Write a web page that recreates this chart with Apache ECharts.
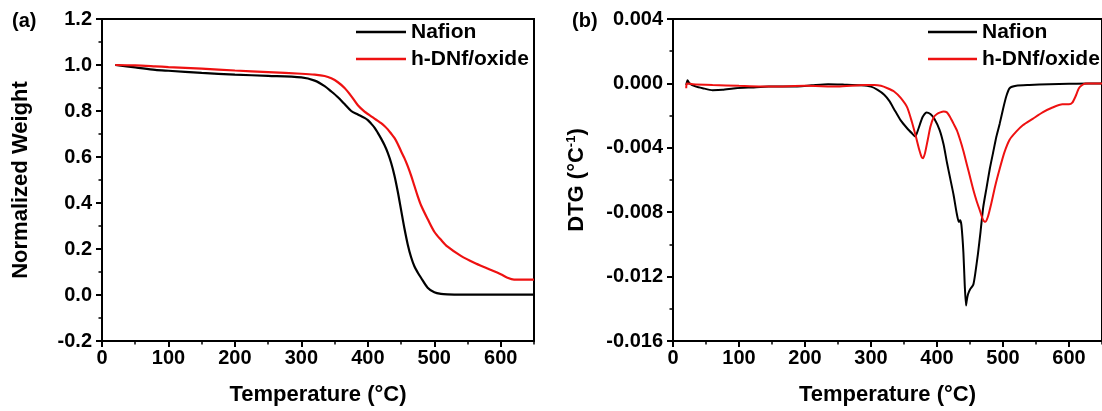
<!DOCTYPE html>
<html>
<head>
<meta charset="utf-8">
<script src="https://cdn.jsdelivr.net/npm/echarts@6/dist/echarts.min.js"></script>
<style>html,body{margin:0;padding:0;background:#fff}#c{width:1102px;height:411px}</style>
</head>
<body>
<div id="c"></div>
<script>
// ---- data ----
const seriesNames = ['Nafion', 'h-DNf/oxide'];
const xTicks = [0, 100, 200, 300, 400, 500, 600];
const xMinorTicks = [50, 150, 250, 350, 450, 550, 650];

// (a) TGA
const tgaT = [20, 50, 80, 100, 150, 200, 250, 300, 320, 335, 345, 355, 365, 375, 385, 395, 400, 405, 410, 415, 420, 425, 430, 435, 440, 445, 450, 455, 460, 465, 470, 475, 480, 490, 500, 510, 520, 540, 560, 580, 600, 610, 620, 650];
const tgaNafion = [1.0, 0.99, 0.979, 0.975, 0.966, 0.958, 0.953, 0.946, 0.932, 0.908, 0.885, 0.86, 0.83, 0.80, 0.785, 0.77, 0.76, 0.745, 0.728, 0.705, 0.68, 0.652, 0.618, 0.575, 0.52, 0.45, 0.37, 0.29, 0.22, 0.165, 0.125, 0.098, 0.075, 0.032, 0.012, 0.005, 0.003, 0.002, 0.002, 0.002, 0.002, 0.002, 0.002, 0.002];
const tgaOxide = [1.0, 0.998, 0.994, 0.991, 0.984, 0.976, 0.969, 0.962, 0.958, 0.952, 0.942, 0.925, 0.90, 0.865, 0.825, 0.797, 0.787, 0.777, 0.767, 0.757, 0.747, 0.735, 0.72, 0.702, 0.683, 0.657, 0.625, 0.595, 0.56, 0.52, 0.475, 0.43, 0.39, 0.33, 0.275, 0.24, 0.21, 0.17, 0.14, 0.115, 0.09, 0.075, 0.067, 0.067];

// (b) DTG
const dtgNafionT = [20, 22, 25, 35, 45, 60, 75, 95, 120, 145, 180, 210, 235, 260, 285, 300, 310, 320, 328, 335, 345, 355, 362, 367, 372, 378, 384, 390, 396, 404, 410, 415, 420, 425, 430, 433, 435, 437, 440, 442, 444, 445, 447, 450, 455, 458, 462, 466, 470, 475, 480, 485, 490, 495, 500, 505, 510, 520, 540, 570, 600, 630, 650];
const dtgNafionV = [-0.0001, 0.0002, 0.0, -0.0002, -0.0003, -0.00042, -0.0004, -0.0003, -0.00025, -0.0002, -0.0002, -0.00012, -0.00005, -0.00008, -0.00012, -0.0002, -0.0004, -0.0007, -0.0011, -0.0016, -0.0023, -0.0028, -0.0031, -0.0033, -0.0028, -0.0021, -0.0018, -0.0019, -0.0022, -0.0029, -0.0038, -0.0049, -0.0059, -0.0069, -0.0081, -0.0086, -0.0085, -0.0088, -0.0105, -0.0125, -0.0138, -0.0135, -0.0131, -0.0128, -0.0125, -0.0118, -0.0106, -0.0092, -0.0077, -0.0065, -0.0053, -0.0043, -0.0033, -0.0025, -0.0016, -0.0008, -0.0003, -0.00015, -0.0001, -0.00005, -0.00002, 0.0, 0.0];
const dtgOxideT = [20, 21, 30, 60, 100, 150, 200, 250, 290, 305, 315, 325, 335, 345, 355, 362, 368, 373, 377, 379, 382, 386, 390, 395, 400, 405, 410, 415, 420, 425, 430, 435, 440, 445, 450, 455, 460, 465, 470, 473, 477, 482, 488, 495, 502, 510, 520, 530, 545, 560, 575, 590, 600, 605, 610, 615, 620, 625, 635, 650];
const dtgOxideV = [-0.0003, 0.0, -0.00005, -0.0001, -0.00015, -0.0002, -0.00015, -0.0002, -0.0001, -0.0001, -0.00015, -0.0003, -0.0005, -0.0009, -0.0015, -0.0024, -0.0033, -0.0041, -0.0046, -0.00465, -0.0043, -0.0035, -0.0027, -0.0021, -0.0019, -0.0018, -0.00175, -0.0018, -0.0021, -0.0025, -0.0029, -0.0035, -0.0042, -0.005, -0.0058, -0.0066, -0.0073, -0.0079, -0.0085, -0.0086, -0.0083, -0.0075, -0.0064, -0.0053, -0.0043, -0.0035, -0.003, -0.0026, -0.0022, -0.0018, -0.0015, -0.0013, -0.0013, -0.0012, -0.0008, -0.0003, -0.0001, 0.0, 0.0, 0.0];

const zip = (xs, ys) => xs.map((x, i) => [x, ys[i]]);

// ---- chart ----
const FONT = '"Liberation Sans", Arial, sans-serif';
const black = '#000000';
const red = '#ee1111';
const chart = echarts.init(document.getElementById('c'), null, {renderer: 'canvas'});

const lbl = {fontFamily: FONT, fontWeight: 'bold', fontSize: 20, color: black};
const nameStyle = {fontFamily: FONT, fontWeight: 'bold', fontSize: 22, color: black};

function mainX(gi, nameGap) {
  return {
    type: 'value', gridIndex: gi, min: 0, max: 650, interval: 100,
    name: 'Temperature (°C)', nameLocation: 'middle', nameGap: nameGap,
    nameTextStyle: nameStyle,
    axisLine: {show: true, onZero: false, lineStyle: {color: black, width: 2}},
    axisTick: {show: true, inside: false, length: 6, lineStyle: {color: black, width: 2}, customValues: xTicks},
    axisLabel: Object.assign({margin: 7, customValues: xTicks, formatter: v => String(v)}, lbl),
    splitLine: {show: false}
  };
}
function minorX(gi) {
  return {
    type: 'value', gridIndex: gi, min: 0, max: 650, interval: 50, position: 'bottom',
    axisLine: {show: false, onZero: false},
    axisTick: {show: true, length: 3.5, lineStyle: {color: black, width: 1.5}, customValues: xMinorTicks},
    axisLabel: {show: false}, splitLine: {show: false}
  };
}
function legendAt(left, w) {
  return {left: left, top: 21, orient: 'vertical', padding: 0, itemWidth: w, itemHeight: 2.5, itemGap: 5,
    icon: 'rect', data: seriesNames,
    textStyle: {fontFamily: FONT, fontWeight: 'bold', fontSize: 21, color: black, lineHeight: 22}};
}

const option = {
  animation: false,
  backgroundColor: '#fff',
  grid: [
    {left: 102, top: 19, width: 432, height: 322, show: true, borderColor: black, borderWidth: 2, backgroundColor: 'transparent'},
    {left: 673, top: 19, width: 434, height: 322, show: true, borderColor: black, borderWidth: 2, backgroundColor: 'transparent'}
  ],
  xAxis: [mainX(0, 43), minorX(0), mainX(1, 43), minorX(1)],
  yAxis: [
    {
      type: 'value', gridIndex: 0, min: -0.2, max: 1.2, interval: 0.2,
      name: 'Normalized Weight', nameLocation: 'middle', nameGap: 70, nameRotate: 90,
      nameTextStyle: nameStyle,
      axisLine: {show: true, onZero: false, lineStyle: {color: black, width: 2}},
      axisTick: {show: true, length: 6, lineStyle: {color: black, width: 2}},
      minorTick: {show: true, splitNumber: 2, length: 3.5, lineStyle: {color: black, width: 1.5}},
      axisLabel: Object.assign({margin: 10, formatter: v => v.toFixed(1)}, lbl),
      splitLine: {show: false}, minorSplitLine: {show: false}
    },
    {
      type: 'value', gridIndex: 1, min: -0.016, max: 0.004, interval: 0.004,
      name: 'DTG (°C{sup|-1})', nameLocation: 'middle', nameGap: 84, nameRotate: 90,
      nameTextStyle: Object.assign({lineHeight: 24,
        rich: {sup: {fontFamily: FONT, fontWeight: 'bold', fontSize: 13, color: black, verticalAlign: 'top', lineHeight: 24, padding: [0, 0, 9, 0]}}}, nameStyle),
      axisLine: {show: true, onZero: false, lineStyle: {color: black, width: 2}},
      axisTick: {show: true, length: 6, lineStyle: {color: black, width: 2}},
      minorTick: {show: true, splitNumber: 2, length: 3.5, lineStyle: {color: black, width: 1.5}},
      axisLabel: Object.assign({margin: 10, formatter: v => v.toFixed(3)}, lbl),
      splitLine: {show: false}, minorSplitLine: {show: false}
    }
  ],
  legend: [legendAt(356, 50), legendAt(928, 49)],
  graphic: [
    {type: 'text', left: 12, top: 11, style: {text: '(a)', font: 'bold 20px ' + FONT, fill: black}},
    {type: 'text', left: 572, top: 11, style: {text: '(b)', font: 'bold 20px ' + FONT, fill: black}}
  ],
  series: [
    {name: seriesNames[0], type: 'line', xAxisIndex: 0, yAxisIndex: 0, data: zip(tgaT, tgaNafion), showSymbol: false, symbol: 'none', smooth: 0.3, lineStyle: {color: black, width: 2.2}, itemStyle: {color: black}},
    {name: seriesNames[1], type: 'line', xAxisIndex: 0, yAxisIndex: 0, data: zip(tgaT, tgaOxide), showSymbol: false, symbol: 'none', smooth: 0.3, lineStyle: {color: red, width: 2.2}, itemStyle: {color: red}},
    {name: seriesNames[0], type: 'line', xAxisIndex: 2, yAxisIndex: 1, data: zip(dtgNafionT, dtgNafionV), showSymbol: false, symbol: 'none', smooth: 0.2, lineStyle: {color: black, width: 2}, itemStyle: {color: black}},
    {name: seriesNames[1], type: 'line', xAxisIndex: 2, yAxisIndex: 1, data: zip(dtgOxideT, dtgOxideV), showSymbol: false, symbol: 'none', smooth: 0.2, lineStyle: {color: red, width: 2}, itemStyle: {color: red}}
  ]
};
chart.setOption(option);
</script>
</body>
</html>
